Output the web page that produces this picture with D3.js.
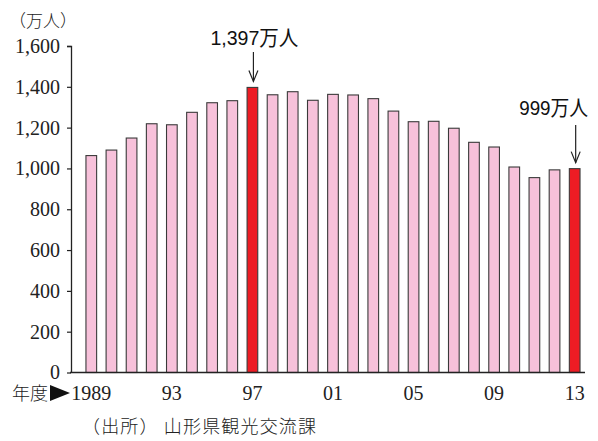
<!DOCTYPE html>
<html>
<head>
<meta charset="utf-8">
<script src="https://cdn.jsdelivr.net/npm/d3@7"></script>
<style>
  body { margin: 0; background: #fff; }
  svg { display: block; }
</style>
</head>
<body>
<svg id="chart" width="598" height="441"></svg>
<script>
// 山形県 観光客数（万人）, 年度別
const years = d3.range(1989, 2014);
const visitors = [1063, 1090, 1149, 1219, 1214, 1275, 1322, 1332, 1397, 1361,
                  1376, 1334, 1363, 1360, 1342, 1281, 1229, 1231, 1197, 1128,
                  1105, 1007, 955, 993, 999];
const highlightYears = [1997, 2013];
const yTicks = [0, 200, 400, 600, 800, 1000, 1200, 1400, 1600];
const xTickLabels = { 1989: "1989", 1993: "93", 1997: "97", 2001: "01", 2005: "05", 2009: "09", 2013: "13" };
const callouts = [
  { year: 1997, text: "1,397万人", dx: 2, len: 88, textY: 45, arrowTop: 52 },
  { year: 2013, text: "999万人", dx: -21, len: 69, textY: 115, arrowTop: 125 }
];

const svg = d3.select("#chart");
const serif = "'Liberation Serif', 'DejaVu Serif', serif";
const sans = "'Liberation Sans', Arial, 'Noto Sans CJK JP', sans-serif";
const cjk = "'Noto Sans CJK JP', sans-serif";

const x = d3.scaleBand()
  .domain(years)
  .range([71, 585])
  .paddingInner(0.47)
  .paddingOuter(0.495)
  .align(0.75);

const y = d3.scaleLinear().domain([0, 1600]).range([372.5, 46]);

// bars
svg.append("g").selectAll("rect")
  .data(years.map((yr, i) => ({ yr, v: visitors[i] })))
  .join("rect")
  .attr("x", d => x(d.yr))
  .attr("y", d => y(d.v))
  .attr("width", x.bandwidth())
  .attr("height", d => y(0) - y(d.v))
  .attr("fill", d => highlightYears.includes(d.yr) ? "#ed1c24" : "#f7c1da")
  .attr("stroke", "#3a3a3a")
  .attr("stroke-width", 1.1);

// y axis
const yAxis = svg.append("g")
  .attr("transform", "translate(71,0)")
  .call(d3.axisLeft(y).tickValues(yTicks).tickSize(4).tickPadding(7)
    .tickFormat(d3.format(",")));
yAxis.select(".domain").attr("d", "M-4,46.5H0.5V373").attr("stroke", "#222").attr("stroke-width", 1.3);
yAxis.selectAll(".tick line").attr("stroke", "#222").attr("stroke-width", 1.2);
yAxis.selectAll(".tick text")
  .attr("font-family", serif).attr("font-size", 20).attr("fill", "#222");

// x axis baseline
svg.append("line")
  .attr("x1", 70).attr("x2", 585)
  .attr("y1", y(0)).attr("y2", y(0))
  .attr("stroke", "#222").attr("stroke-width", 1.3);

// x tick labels
svg.append("g").selectAll("text")
  .data(years.filter(yr => xTickLabels[yr]))
  .join("text")
  .attr("x", d => x(d) + x.bandwidth() / 2)
  .attr("y", 400)
  .attr("text-anchor", "middle")
  .attr("font-family", serif)
  .attr("font-size", 20)
  .attr("fill", "#222")
  .text(d => xTickLabels[d]);

// 年度▶
svg.append("text")
  .attr("x", 12).attr("y", 400)
  .attr("font-family", cjk).attr("font-size", 18).attr("font-weight", 300).attr("fill", "#222")
  .text("年度");
svg.append("path")
  .attr("d", "M50,385L70,393L50,401Z")
  .attr("fill", "#111");

// unit label
svg.append("text")
  .attr("x", 9).attr("y", 27)
  .attr("font-family", cjk).attr("font-size", 17).attr("font-weight", 300).attr("fill", "#222")
  .text("（万人）");

// callouts
callouts.forEach(c => {
  const i = years.indexOf(c.year);
  const cx = x(c.year) + x.bandwidth() / 2;
  const top = y(visitors[i]);
  svg.append("text")
    .attr("x", cx + c.dx).attr("y", c.textY)
    .attr("text-anchor", "middle")
    .attr("font-family", sans).attr("font-size", 21).attr("fill", "#111")
    .attr("textLength", c.len).attr("lengthAdjust", "spacingAndGlyphs")
    .text(c.text);
  svg.append("line")
    .attr("x1", cx + 1).attr("x2", cx + 1)
    .attr("y1", c.arrowTop).attr("y2", top - 6)
    .attr("stroke", "#222").attr("stroke-width", 1.2);
  svg.append("path")
    .attr("d", `M${cx - 3.5},${top - 17}L${cx + 1},${top - 6}L${cx + 5.5},${top - 17}`)
    .attr("fill", "none").attr("stroke", "#222").attr("stroke-width", 1.2);
});

// source
svg.append("text")
  .attr("x", 82).attr("y", 433)
  .attr("font-family", cjk).attr("font-size", 18).attr("font-weight", 300).attr("fill", "#222")
  .attr("textLength", 234).attr("lengthAdjust", "spacing")
  .text("（出所） 山形県観光交流課");
</script>
</body>
</html>
